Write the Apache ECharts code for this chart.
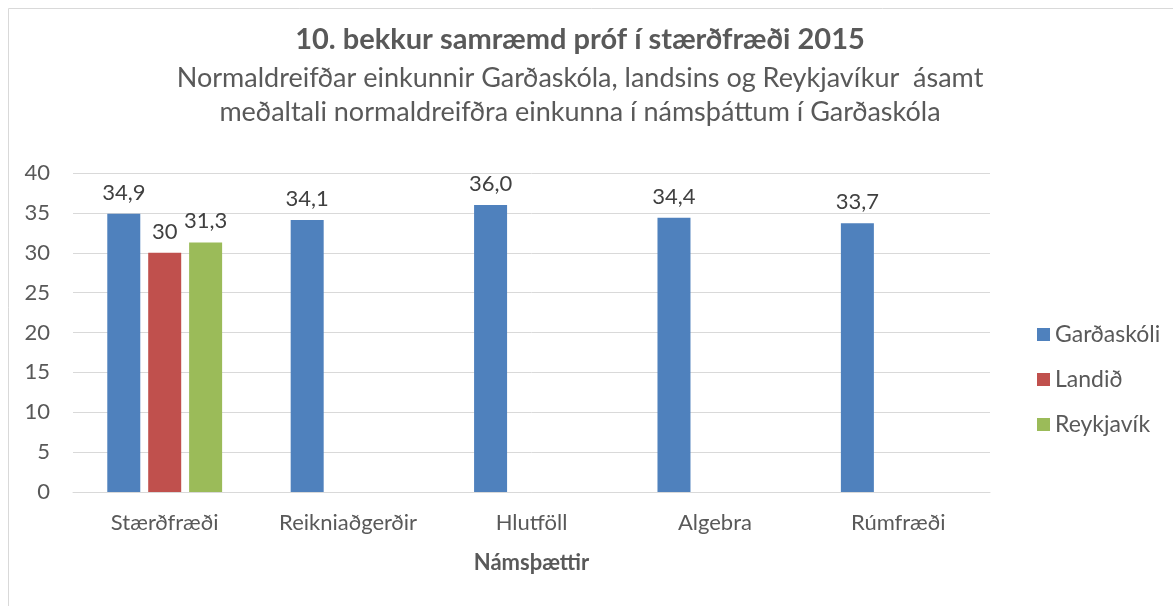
<!DOCTYPE html>
<html><head><meta charset="utf-8">
<script src="https://cdn.jsdelivr.net/npm/echarts@6/dist/echarts.min.js"></script>
<style>html,body{margin:0;padding:0;background:#fff}#c{width:1173px;height:606px}</style>
</head><body><div id="c"></div>
<script>
const categories = ['Stærðfræði', 'Reikniaðgerðir', 'Hlutföll', 'Algebra', 'Rúmfræði'];
const gardaskoli = [34.9, 34.1, 36.0, 34.4, 33.7];
const gardaskoliLabels = ['34,9', '34,1', '36,0', '34,4', '33,7'];
const landid = [30, null, null, null, null];
const landidLabels = ['30', '', '', '', ''];
const reykjavik = [31.3, null, null, null, null];
const reykjavikLabels = ['31,3', '', '', '', ''];
const yTicks = [0, 5, 10, 15, 20, 25, 30, 35, 40];

const FONT = 'Lato';
const chart = echarts.init(document.getElementById('c'));
function lbl(arr) {
  return {
    show: true, position: 'top', distance: 10,
    color: '#404040', fontSize: 22, fontFamily: FONT,
    formatter: p => arr[p.dataIndex]
  };
}
chart.setOption({
  animation: false,
  textStyle: { fontFamily: FONT },
  graphic: [{
    type: 'rect', shape: { x: 8.5, y: 8.5, width: 1300, height: 700 },
    style: { fill: 'none', stroke: '#d9d9d9', lineWidth: 1 }, silent: true
  }],
  title: {
    text: '10. bekkur samræmd próf í stærðfræði 2015',
    subtext: 'Normaldreifðar einkunnir Garðaskóla, landsins og Reykjavíkur  ásamt\nmeðaltali normaldreifðra einkunna í námsþáttum í Garðaskóla',
    left: 575, textAlign: 'center', top: 20, itemGap: 7,
    textStyle: { fontFamily: FONT, fontWeight: 'bold', fontSize: 29, color: '#595959' },
    subtextStyle: { fontFamily: FONT, fontSize: 27, color: '#595959', lineHeight: 34, align: 'center' }
  },
  legend: {
    orient: 'vertical', left: 1032, top: 318,
    itemWidth: 13, itemHeight: 13, itemGap: 22,
    icon: 'rect',
    textStyle: { fontFamily: FONT, fontSize: 23, color: '#595959' },
    data: ['Garðaskóli', 'Landið', 'Reykjavík']
  },
  grid: { left: 73, right: 183, top: 173, bottom: 114, containLabel: false },
  xAxis: {
    type: 'category', data: categories,
    name: 'Námsþættir', nameLocation: 'middle', nameGap: 60,
    nameTextStyle: { fontFamily: FONT, fontWeight: 'bold', fontSize: 22, color: '#595959' },
    axisLine: { lineStyle: { color: '#d9d9d9', width: 1 } },
    axisTick: { show: false },
    axisLabel: { fontFamily: FONT, fontSize: 22, color: '#595959', margin: 20 }
  },
  yAxis: {
    type: 'value', min: yTicks[0], max: yTicks[yTicks.length - 1], interval: 5,
    axisLine: { show: false }, axisTick: { show: false },
    splitLine: { lineStyle: { color: '#d9d9d9', width: 1 } },
    axisLabel: { fontFamily: FONT, fontSize: 22, color: '#595959', margin: 23 }
  },
  series: [
    { name: 'Garðaskóli', type: 'bar', data: gardaskoli, barWidth: 33, barGap: '24%',
      itemStyle: { color: '#4f81bd' }, label: lbl(gardaskoliLabels) },
    { name: 'Landið', type: 'bar', data: landid, barWidth: 33,
      itemStyle: { color: '#c0504d' }, label: lbl(landidLabels) },
    { name: 'Reykjavík', type: 'bar', data: reykjavik, barWidth: 33,
      itemStyle: { color: '#9bbb59' }, label: lbl(reykjavikLabels) }
  ]
});
</script></body></html>
